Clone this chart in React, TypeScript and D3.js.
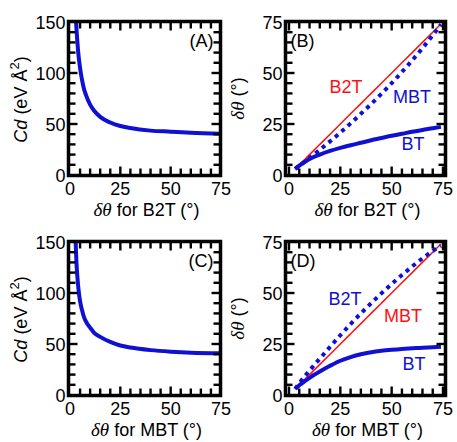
import React from 'react';
import * as d3 from 'd3';

const BLUE = '#1010d2';
const RED = '#ff1010';
const FONT = 'Liberation Sans, Arial, sans-serif';

// Panel A: Cd vs δθ for B2T
const thetaA = [3, 3.5, 4, 5, 6, 7, 8, 10, 12, 15, 20, 25, 30, 40, 50, 60, 75];
const cdA = [150, 135, 122, 105, 93, 84, 78, 69, 63, 57, 51.5, 48, 46, 43.5, 42.5, 41.5, 40.5];

// Panel C: Cd vs δθ for MBT
const thetaC = [2.8, 3.2, 3.7, 4.3, 5, 6, 7, 8.5, 10, 12, 15, 20, 25, 30, 40, 50, 60, 75];
const cdC = [150, 130, 115, 102, 92, 83, 76, 70, 66, 61, 57, 52, 48.5, 46.5, 44, 42.5, 41.5, 41];

// Panel B: x = δθ for B2T
const xB = [3, 5, 8, 10, 15, 20, 25, 30, 35, 40, 45, 50, 55, 60, 65, 70, 74];
const b2tB = xB.slice();
const mbtB = [3, 4.5, 6.8, 8.4, 12.4, 16.5, 20.8, 25.3, 30, 34.8, 39.8, 45, 50.5, 56.2, 62.2, 68.5, 73.8];
const btB = [3, 4.6, 6.6, 7.8, 10, 11.8, 13.3, 14.6, 15.8, 17, 18.1, 19.2, 20.2, 21.2, 22.1, 22.9, 23.6];

// Panel D: x = δθ for MBT
const xD = [3, 5, 8, 10, 15, 20, 25, 30, 35, 40, 45, 50, 55, 60, 65, 70, 74];
const mbtD = xD.slice();
const b2tD = [3, 5.8, 9.6, 12, 17.8, 23.6, 29.3, 34.8, 40, 45, 49.8, 54.4, 58.8, 63, 67, 70.6, 73];
const btD = [3, 4.8, 7, 8.4, 11.5, 14.3, 16.8, 18.6, 20, 21, 21.7, 22.2, 22.6, 22.9, 23.2, 23.4, 23.6];

const xTicks = [0, 25, 50, 75];
const yTicksCd = [0, 50, 100, 150];
const yTicksTheta = [0, 25, 50, 75];

type Series = { xs: number[]; ys: number[]; color: string; width: number; dash?: string };
type Lab = { text: string; x: number; y: number; color: string };

function Panel(props: {
  box: [number, number, number, number];
  xr: [number, number];
  yr: [number, number];
  yDomain: [number, number];
  yTicks: number[];
  yMinor: number;
  series: Series[];
  tag: string;
  tagRight: boolean;
  labels: Lab[];
  xTitle: string;
  yTitle: 'cd' | 'theta';
}) {
  const [L, T, R, B] = props.box;
  const x = d3.scaleLinear().domain([0, 75]).range(props.xr);
  const y = d3.scaleLinear().domain(props.yDomain).range(props.yr);
  const xMinor = d3.range(0, 75.01, 5).filter((v) => !xTicks.includes(v));
  const yMinor = d3
    .range(props.yDomain[0], props.yDomain[1] + 0.01, props.yMinor)
    .filter((v) => !props.yTicks.includes(v));
  const maj = 9;
  const mnr = 7;
  const line = d3
    .line<[number, number]>()
    .x((d) => x(d[0]))
    .y((d) => y(d[1]))
    .curve(d3.curveMonotoneX);
  type TL = { k: string; x1: number; y1: number; x2: number; y2: number };
  const tl: TL[] = [];
  const addX = (v: number, len: number) => {
    const px = x(v);
    if (px < L + 2 || px > R - 2) return;
    tl.push({ k: 'b' + v, x1: px, x2: px, y1: B, y2: B - len });
    tl.push({ k: 't' + v, x1: px, x2: px, y1: T, y2: T + len });
  };
  const addY = (v: number, len: number) => {
    const py = y(v);
    if (py < T + 2 || py > B - 2) return;
    tl.push({ k: 'l' + v, x1: L, x2: L + len, y1: py, y2: py });
    tl.push({ k: 'r' + v, x1: R, x2: R - len, y1: py, y2: py });
  };
  xTicks.forEach((v) => addX(v, maj));
  xMinor.forEach((v) => addX(v, mnr));
  props.yTicks.forEach((v) => addY(v, maj));
  yMinor.forEach((v) => addY(v, mnr));
  const cx = (L + R) / 2;
  const cy = (T + B) / 2;
  return (
    <g>
      <defs>
        <clipPath id={'clip' + props.tag}>
          <rect x={L} y={T} width={R - L} height={B - T} />
        </clipPath>
      </defs>
      <g clipPath={`url(#clip${props.tag})`}>
        {props.series.map((s, i) => (
          <path
            key={i}
            d={line(s.xs.map((v, j) => [v, s.ys[j]] as [number, number])) || ''}
            fill="none"
            stroke={s.color}
            strokeWidth={s.width}
            strokeDasharray={s.dash}
          />
        ))}
      </g>
      {tl.map((t) => (
        <line key={t.k} x1={t.x1} y1={t.y1} x2={t.x2} y2={t.y2} stroke="#000" strokeWidth={2.4} />
      ))}
      <rect x={L} y={T} width={R - L} height={B - T} fill="none" stroke="#000" strokeWidth={3.5} />
      {xTicks.map((v) => (
        <text key={'xl' + v} x={x(v)} y={B + 19} textAnchor="middle" fontSize={18} fontFamily={FONT}>
          {v}
        </text>
      ))}
      {props.yTicks.map((v) => (
        <text key={'yl' + v} x={L - 3} y={y(v) + 6.5} textAnchor="end" fontSize={18} fontFamily={FONT}>
          {v}
        </text>
      ))}
      <text
        x={props.tagRight ? R - 7 : L + 5}
        y={T + 25}
        textAnchor={props.tagRight ? 'end' : 'start'}
        fontSize={18}
        fontFamily={FONT}
      >
        {'(' + props.tag + ')'}
      </text>
      {props.labels.map((l, i) => (
        <text key={i} x={l.x} y={l.y} textAnchor="middle" fontSize={18} fontFamily={FONT} fill={l.color}>
          {l.text}
        </text>
      ))}
      <text x={cx + 2} y={B + 40.5} textAnchor="middle" fontSize={18} fontFamily={FONT}>
        <tspan fontFamily="Liberation Serif, serif" fontStyle="italic" fontSize={19}>
          δθ
        </tspan>
        <tspan>{' for ' + props.xTitle + ' (°)'}</tspan>
      </text>
      {props.yTitle === 'cd' ? (
        <text
          transform={`translate(${L - 42},${cy + 1}) rotate(-90)`}
          textAnchor="middle"
          fontSize={18}
          fontFamily={FONT}
        >
          <tspan fontStyle="italic">Cd</tspan>
          <tspan> (eV Å</tspan>
          <tspan dy={-8} fontSize={13}>
            2
          </tspan>
          <tspan dy={8}>)</tspan>
        </text>
      ) : (
        <text
          transform={`translate(${L - 42},${cy}) rotate(-90)`}
          textAnchor="middle"
          fontSize={18}
          fontFamily={FONT}
        >
          <tspan fontFamily="Liberation Serif, serif" fontStyle="italic" fontSize={19}>
            δθ
          </tspan>
          <tspan> (°)</tspan>
        </text>
      )}
    </g>
  );
}

export default function App() {
  return (
    <svg width={457} height={442} style={{ position: 'absolute', left: 0, top: 0, background: '#fff' }}>
      <rect x={0} y={0} width={457} height={442} fill="#fff" />
      <Panel
        box={[68.5, 21.5, 220.5, 175.5]}
        xr={[70, 221]}
        yr={[175, 22]}
        yDomain={[0, 150]}
        yTicks={yTicksCd}
        yMinor={10}
        series={[{ xs: thetaA, ys: cdA, color: BLUE, width: 4 }]}
        tag="A"
        tagRight={true}
        labels={[]}
        xTitle="B2T"
        yTitle="cd"
      />
      <Panel
        box={[285.5, 21.5, 445.5, 175.5]}
        xr={[289, 443]}
        yr={[175, 22]}
        yDomain={[0, 75]}
        yTicks={yTicksTheta}
        yMinor={5}
        series={[
          { xs: xB, ys: b2tB, color: RED, width: 1.5 },
          { xs: xB, ys: mbtB, color: BLUE, width: 4, dash: '4,4.5' },
          { xs: xB, ys: btB, color: BLUE, width: 4 },
        ]}
        tag="B"
        tagRight={false}
        labels={[
          { text: 'B2T', x: 346, y: 93, color: RED },
          { text: 'MBT', x: 412, y: 103, color: BLUE },
          { text: 'BT', x: 413, y: 150, color: BLUE },
        ]}
        xTitle="B2T"
        yTitle="theta"
      />
      <Panel
        box={[68.5, 241.5, 220.5, 395.5]}
        xr={[70, 221]}
        yr={[395, 242]}
        yDomain={[0, 150]}
        yTicks={yTicksCd}
        yMinor={10}
        series={[{ xs: thetaC, ys: cdC, color: BLUE, width: 4 }]}
        tag="C"
        tagRight={true}
        labels={[]}
        xTitle="MBT"
        yTitle="cd"
      />
      <Panel
        box={[285.5, 241.5, 445.5, 395.5]}
        xr={[289, 443]}
        yr={[395, 242]}
        yDomain={[0, 75]}
        yTicks={yTicksTheta}
        yMinor={5}
        series={[
          { xs: xD, ys: mbtD, color: RED, width: 1.5 },
          { xs: xD, ys: b2tD, color: BLUE, width: 4, dash: '4,4.5' },
          { xs: xD, ys: btD, color: BLUE, width: 4 },
        ]}
        tag="D"
        tagRight={false}
        labels={[
          { text: 'B2T', x: 345, y: 305, color: BLUE },
          { text: 'MBT', x: 403, y: 322, color: RED },
          { text: 'BT', x: 414, y: 370, color: BLUE },
        ]}
        xTitle="MBT"
        yTitle="theta"
      />
    </svg>
  );
}
